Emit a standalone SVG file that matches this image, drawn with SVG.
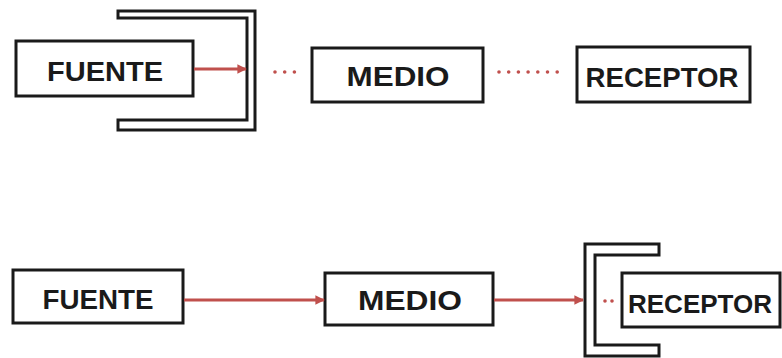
<svg xmlns="http://www.w3.org/2000/svg" width="782" height="358" viewBox="0 0 782 358">
<defs>
<style>
.box{fill:#fff;stroke:#1a1a1a;stroke-width:3}
.shield{fill:none;stroke:#1a1a1a;stroke-width:3;stroke-linejoin:miter}
.lbl{font-family:"Liberation Sans","Arial",sans-serif;font-weight:bold;font-size:28px;fill:#1a1a1a;text-anchor:middle}
.arr{stroke:#c0504d;stroke-width:3;fill:none}
.dots{stroke:#c0504d;stroke-width:3.6;stroke-linecap:round;fill:none}
</style>
<marker id="ah" viewBox="0 0 10 10" refX="9" refY="5" markerWidth="3.2" markerHeight="3.2" orient="auto" markerUnits="strokeWidth">
<path d="M0,0 L10,5 L0,10 z" fill="#c0504d"/>
</marker>
</defs>
<rect width="782" height="358" fill="#fff"/>

<g id="shield-top">
<path class="shield" d="M118,11 H255 V130 H118 V120 H247 V18 H118 Z"/>
</g>
<g id="shield-bottom">
<path class="shield" d="M659,244 H585 V356 H659 V345 H595 V255 H659 Z"/>
</g>

<g id="fuente-top">
<rect class="box" x="16" y="41" width="177" height="55"/>
<text class="lbl" x="105" y="81" textLength="116" lengthAdjust="spacingAndGlyphs">FUENTE</text>
</g>
<g id="medio-top">
<rect class="box" x="312" y="48" width="171" height="54"/>
<text class="lbl" x="398" y="86" textLength="103" lengthAdjust="spacingAndGlyphs">MEDIO</text>
</g>
<g id="receptor-top">
<rect class="box" x="577" y="47" width="173" height="55"/>
<text class="lbl" x="662" y="87" textLength="153" lengthAdjust="spacingAndGlyphs">RECEPTOR</text>
</g>

<g id="fuente-bottom">
<rect class="box" x="13" y="270" width="170" height="53"/>
<text class="lbl" x="98" y="309" textLength="111" lengthAdjust="spacingAndGlyphs">FUENTE</text>
</g>
<g id="medio-bottom">
<rect class="box" x="325" y="273" width="168" height="52"/>
<text class="lbl" x="410" y="310" textLength="104" lengthAdjust="spacingAndGlyphs">MEDIO</text>
</g>
<g id="receptor-bottom">
<rect class="box" x="622" y="273" width="158" height="54"/>
<text class="lbl" x="700" y="313" style="font-size:26px">RECEPTOR</text>
</g>

<g id="connectors">
<line class="arr" x1="194" y1="69" x2="246" y2="69" marker-end="url(#ah)"/>
<line class="dots" x1="275" y1="72" x2="295" y2="72" stroke-dasharray="0 9.7"/>
<line class="dots" x1="499" y1="72" x2="558" y2="72" stroke-dasharray="0 9.7"/>
<line class="arr" x1="184" y1="300" x2="324" y2="300" marker-end="url(#ah)"/>
<line class="arr" x1="494" y1="300" x2="583" y2="300" marker-end="url(#ah)"/>
<line class="dots" x1="605" y1="301" x2="613" y2="301" stroke-dasharray="0 7"/>
</g>
</svg>
